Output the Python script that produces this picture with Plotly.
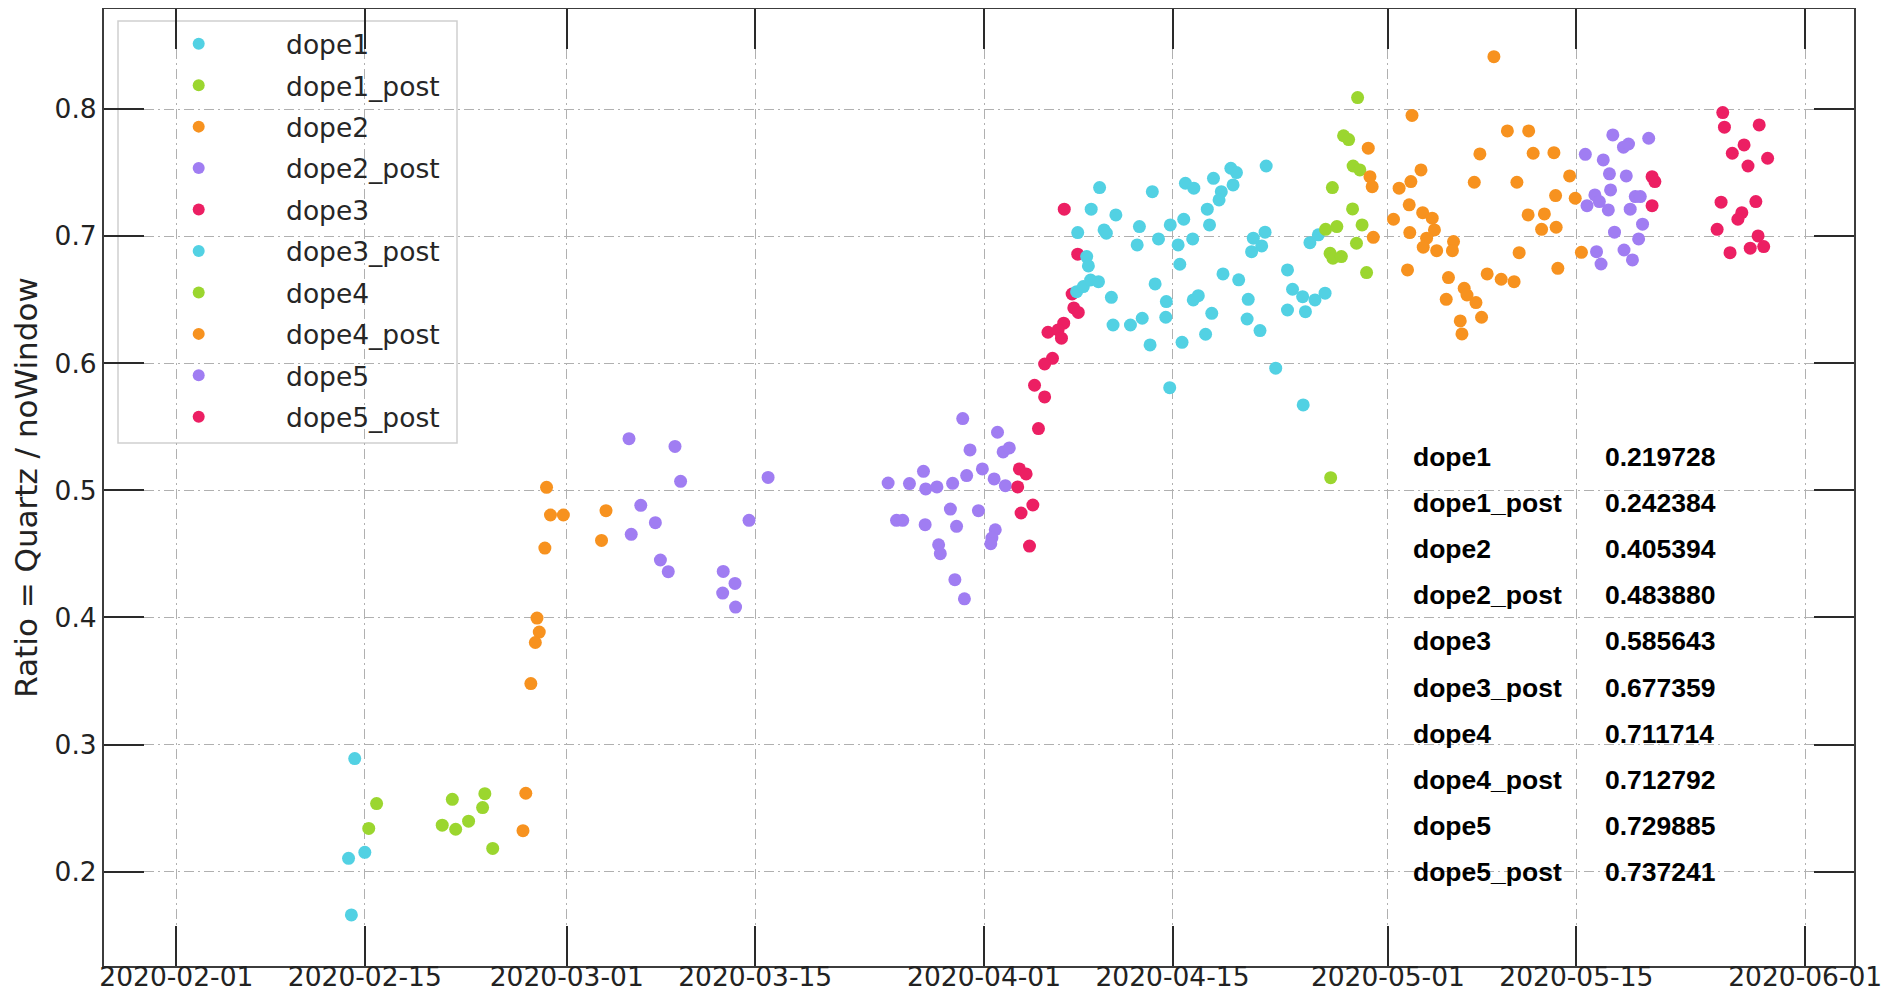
import plotly.graph_objects as go

# ---------------- data ----------------
series_names = ["dope1", "dope1_post", "dope2", "dope2_post", "dope3",
                "dope3_post", "dope4", "dope4_post", "dope5", "dope5_post"]
series_colors = ["#52d1e3", "#9bd62f", "#f7921f", "#a07df2", "#ec1f63",
                 "#52d1e3", "#9bd62f", "#f7921f", "#a07df2", "#ec1f63"]
mean_labels = ["0.219728", "0.242384", "0.405394", "0.483880", "0.585643",
               "0.677359", "0.711714", "0.712792", "0.729885", "0.737241"]
x_tick_dates = ["2020-02-01", "2020-02-15", "2020-03-01", "2020-03-15", "2020-04-01",
                "2020-04-15", "2020-05-01", "2020-05-15", "2020-06-01"]
y_tick_vals = [0.2, 0.3, 0.4, 0.5, 0.6, 0.7, 0.8]

dope1_x = ["2020-02-14 06:00", "2020-02-13 19:00", "2020-02-15 00:00", "2020-02-14 00:00"]
dope1_y = [0.289, 0.2105, 0.2152, 0.166]

dope1_post_x = ["2020-02-15 21:00", "2020-02-15 07:00", "2020-02-20 18:00", "2020-02-21 12:00",
                "2020-02-21 18:00", "2020-02-22 17:00", "2020-02-23 22:00", "2020-02-23 18:00",
                "2020-02-24 12:00"]
dope1_post_y = [0.2536, 0.234, 0.2366, 0.2569, 0.2334, 0.2397, 0.2614, 0.2504, 0.2183]

dope2_x = ["2020-02-26 23:00", "2020-02-26 18:00", "2020-02-28 12:00", "2020-02-28 19:00",
           "2020-02-29 18:00", "2020-02-28 09:00", "2020-03-03 22:00", "2020-03-03 14:00",
           "2020-02-27 19:00", "2020-02-27 23:00", "2020-02-27 16:00", "2020-02-27 08:00"]
dope2_y = [0.2617, 0.2323, 0.5024, 0.4806, 0.4806, 0.4546, 0.484, 0.4606,
           0.3995, 0.3885, 0.3803, 0.348]

dope2_post_x = ["2020-03-05 15:00", "2020-03-09 01:00", "2020-03-09 11:00", "2020-03-15 23:00",
                "2020-03-06 12:00", "2020-03-07 14:00", "2020-03-05 19:00", "2020-03-14 13:00",
                "2020-03-07 23:00", "2020-03-08 13:00", "2020-03-12 15:00", "2020-03-13 12:00",
                "2020-03-12 14:00", "2020-03-13 13:00",
                "2020-03-30 10:00", "2020-04-02 00:00", "2020-03-30 23:00", "2020-04-02 10:00",
                "2020-04-02 21:00", "2020-03-27 12:00", "2020-03-24 21:00", "2020-03-26 11:00",
                "2020-03-27 16:00", "2020-03-28 12:00", "2020-03-29 16:00", "2020-03-30 17:00",
                "2020-03-31 21:00", "2020-04-01 18:00", "2020-04-02 14:00", "2020-03-29 12:00",
                "2020-03-31 14:00", "2020-03-25 12:00", "2020-03-25 23:00", "2020-03-27 15:00",
                "2020-03-29 23:00", "2020-04-01 20:00", "2020-04-01 14:00", "2020-04-01 12:00",
                "2020-03-28 15:00", "2020-03-28 18:00", "2020-03-29 20:00", "2020-03-30 13:00"]
dope2_post_y = [0.5407, 0.5346, 0.5071, 0.5102, 0.4882, 0.4746, 0.4654, 0.4764, 0.4452, 0.436,
                0.4362, 0.4268, 0.4192, 0.4082,
                0.5565, 0.5457, 0.5318, 0.5302, 0.5334, 0.515, 0.5058, 0.5053, 0.5011, 0.5027,
                0.5055, 0.5116, 0.5169, 0.509, 0.5037, 0.4853, 0.484, 0.4764, 0.4764, 0.473,
                0.4717, 0.469, 0.4625, 0.458, 0.4572, 0.4502, 0.4297, 0.4147]

dope3_x = ["2020-04-04 18:00", "2020-04-05 12:00", "2020-04-05 01:00", "2020-04-03 15:00",
           "2020-04-04 03:00", "2020-04-03 12:00", "2020-04-04 15:00", "2020-04-03 18:00",
           "2020-04-04 09:00", "2020-04-06 23:00", "2020-04-07 23:00", "2020-04-07 13:00",
           "2020-04-07 16:00", "2020-04-08 00:00", "2020-04-06 22:00", "2020-04-05 18:00",
           "2020-04-06 12:00", "2020-04-06 18:00", "2020-04-06 02:00", "2020-04-05 12:00"]
dope3_y = [0.5827, 0.5735, 0.5486, 0.5169, 0.5129, 0.5027, 0.4885, 0.4822, 0.4562, 0.7212,
           0.6858, 0.6545, 0.6435, 0.64, 0.6315, 0.6244, 0.6262, 0.6197, 0.6039, 0.5994]

dope3_post_x = ["2020-04-09 14:00", "2020-04-13 12:00", "2020-04-08 23:00", "2020-04-10 19:00",
                "2020-04-07 23:00", "2020-04-09 22:00", "2020-04-10 02:00", "2020-04-12 13:00",
                "2020-04-12 09:00", "2020-04-13 23:00", "2020-04-14 20:00", "2020-04-15 20:00",
                "2020-04-15 10:00", "2020-04-16 12:00", "2020-04-15 13:00", "2020-04-15 23:00",
                "2020-04-16 14:00", "2020-04-18 01:00", "2020-04-19 08:00", "2020-04-19 12:00",
                "2020-04-18 15:00", "2020-04-18 11:00", "2020-04-17 14:00", "2020-04-17 18:00",
                "2020-04-08 15:00", "2020-04-08 18:00", "2020-04-07 21:00", "2020-04-08 09:00",
                "2020-04-08 22:00", "2020-04-09 12:00", "2020-04-10 11:00", "2020-04-13 17:00",
                "2020-04-14 13:00", "2020-04-14 12:00", "2020-04-16 13:00", "2020-04-16 22:00",
                "2020-04-18 18:00", "2020-04-17 22:00", "2020-04-10 14:00", "2020-04-11 21:00",
                "2020-04-12 18:00", "2020-04-13 08:00", "2020-04-15 17:00", "2020-04-17 11:00",
                "2020-04-14 19:00", "2020-04-19 22:00",
                "2020-04-19 18:00", "2020-04-21 23:00", "2020-04-21 21:00", "2020-04-21 00:00",
                "2020-04-21 15:00", "2020-04-20 21:00", "2020-04-20 15:00", "2020-04-20 13:00",
                "2020-04-21 12:00", "2020-04-23 13:00", "2020-04-23 22:00", "2020-04-24 16:00",
                "2020-04-25 14:00", "2020-04-26 08:00", "2020-04-23 13:00", "2020-04-24 21:00",
                "2020-04-25 05:00", "2020-04-25 20:00", "2020-04-22 16:00", "2020-04-24 17:00"]
dope3_post_y = [0.7382, 0.735, 0.7212, 0.7167, 0.7028, 0.7049, 0.7023, 0.7075, 0.6931, 0.6978,
                0.7088, 0.7133, 0.6931, 0.6978, 0.6779, 0.7416, 0.7377, 0.7455, 0.7534, 0.7403,
                0.735, 0.7285, 0.7212, 0.7088, 0.6839, 0.6766, 0.6563, 0.6603, 0.6655, 0.6642,
                0.6519, 0.6624, 0.6485, 0.6362, 0.6498, 0.6532, 0.6703, 0.6393, 0.6301, 0.6301,
                0.6354, 0.6144, 0.6165, 0.6228, 0.5808, 0.6656,
                0.75, 0.7552, 0.7031, 0.6984, 0.6923, 0.6878, 0.6503, 0.6348, 0.6257, 0.6734,
                0.6582, 0.6524, 0.6498, 0.6551, 0.6419, 0.6406, 0.6949, 0.701, 0.5961, 0.5672]

dope4_x = ["2020-04-28 18:00", "2020-04-27 17:00", "2020-04-28 02:00", "2020-04-28 10:00",
           "2020-04-28 22:00", "2020-04-26 21:00", "2020-04-28 09:00", "2020-04-29 02:00",
           "2020-04-26 09:00", "2020-04-27 05:00", "2020-04-28 16:00", "2020-04-26 17:00",
           "2020-04-26 22:00", "2020-04-27 13:00", "2020-04-29 10:00", "2020-04-26 18:00"]
dope4_y = [0.809, 0.779, 0.776, 0.7552, 0.7521, 0.7382, 0.7214, 0.7088, 0.7054, 0.7075,
           0.6944, 0.6865, 0.6826, 0.6839, 0.6713, 0.51]

dope4_post_x = ["2020-04-29 13:00", "2020-05-07 20:00", "2020-04-29 16:00", "2020-04-29 20:00",
                "2020-05-01 20:00", "2020-05-02 17:00", "2020-05-03 11:00", "2020-05-07 10:00",
                "2020-05-02 14:00", "2020-05-03 14:00", "2020-05-04 07:00", "2020-05-01 10:00",
                "2020-05-04 11:00", "2020-05-02 15:00", "2020-04-29 22:00", "2020-05-03 21:00",
                "2020-05-03 15:00", "2020-05-04 15:00", "2020-05-05 21:00", "2020-05-05 19:00",
                "2020-05-02 11:00", "2020-05-05 12:00", "2020-05-08 09:00", "2020-05-05 08:00",
                "2020-05-06 16:00", "2020-05-06 21:00", "2020-05-07 13:00", "2020-05-07 23:00",
                "2020-05-06 09:00", "2020-05-06 12:00", "2020-05-02 19:00",
                "2020-05-08 21:00", "2020-05-09 21:00", "2020-05-11 11:00", "2020-05-11 19:00",
                "2020-05-13 08:00", "2020-05-10 14:00", "2020-05-14 12:00", "2020-05-13 11:00",
                "2020-05-14 22:00", "2020-05-11 10:00", "2020-05-12 15:00", "2020-05-12 10:00",
                "2020-05-13 12:00", "2020-05-10 18:00", "2020-05-15 09:00", "2020-05-13 15:00",
                "2020-05-09 10:00", "2020-05-10 09:00"]
dope4_post_y = [0.7692, 0.7647, 0.7468, 0.7389, 0.7377, 0.7429, 0.7521, 0.7424, 0.7246, 0.7185,
                0.7141, 0.7133, 0.7049, 0.7028, 0.6991, 0.6984, 0.6913, 0.6886, 0.6957, 0.6886,
                0.6734, 0.6674, 0.6703, 0.6503, 0.659, 0.6537, 0.6477, 0.6362, 0.6333, 0.6231,
                0.795,
                0.8412, 0.7828, 0.7828, 0.7652, 0.7657, 0.7424, 0.7474, 0.7319, 0.7298, 0.7167,
                0.7175, 0.7054, 0.707, 0.687, 0.6873, 0.6747, 0.6661, 0.6642]

dope5_x = ["2020-05-17 17:00", "2020-05-20 09:00", "2020-05-18 12:00", "2020-05-18 21:00",
           "2020-05-15 16:00", "2020-05-17 00:00", "2020-05-17 11:00", "2020-05-18 17:00",
           "2020-05-17 13:00", "2020-05-16 09:00", "2020-05-16 17:00", "2020-05-15 19:00",
           "2020-05-17 09:00", "2020-05-19 00:00", "2020-05-19 09:00", "2020-05-19 18:00",
           "2020-05-19 22:00", "2020-05-19 15:00", "2020-05-17 20:00", "2020-05-16 12:00",
           "2020-05-16 20:00", "2020-05-18 13:00", "2020-05-19 04:00"]
dope5_y = [0.7796, 0.777, 0.77, 0.7725, 0.7644, 0.76, 0.749, 0.7474, 0.7364, 0.7324,
           0.7272, 0.724, 0.7206, 0.7212, 0.7311, 0.7311, 0.7094, 0.6978, 0.7031, 0.6878,
           0.6781, 0.6891, 0.6813]

dope5_post_x = ["2020-05-25 21:00", "2020-05-26 00:00", "2020-05-28 14:00", "2020-05-27 11:00",
                "2020-05-26 14:00", "2020-05-27 18:00", "2020-05-29 05:00", "2020-05-20 15:00",
                "2020-05-20 20:00", "2020-05-20 15:00", "2020-05-25 18:00", "2020-05-28 08:00",
                "2020-05-27 07:00", "2020-05-27 00:00", "2020-05-25 11:00", "2020-05-28 12:00",
                "2020-05-27 22:00", "2020-05-28 22:00", "2020-05-26 10:00"]
dope5_post_y = [0.7972, 0.7857, 0.7875, 0.7718, 0.7652, 0.7552, 0.7613, 0.7468, 0.7429, 0.724,
                0.7267, 0.7272, 0.7185, 0.7133, 0.7054, 0.7002, 0.6905, 0.6918, 0.687]

series_x = [dope1_x, dope1_post_x, dope2_x, dope2_post_x, dope3_x,
            dope3_post_x, dope4_x, dope4_post_x, dope5_x, dope5_post_x]
series_y = [dope1_y, dope1_post_y, dope2_y, dope2_post_y, dope3_y,
            dope3_post_y, dope4_y, dope4_post_y, dope5_y, dope5_post_y]

# ---------------- figure ----------------
# the page body has an 8px margin, so the figure is made 16px smaller than the window
PAGE_W, PAGE_H, BODY = 1889, 1000, 8
W, H = PAGE_W - 2 * BODY, PAGE_H - 2 * BODY
L, R, T, B = 96, 27, 1, 26
plot_w, plot_h = W - L - R, H - T - B

def page_to_paper_x(px):
    return (px - BODY - L) / plot_w

def page_to_paper_y(py):
    return (H - B - (py - BODY)) / plot_h

fig = go.Figure()
pad = "\u00a0" * 8
for i, name in enumerate(series_names):
    fig.add_trace(go.Scatter(
        x=series_x[i], y=series_y[i], mode="markers", name=pad + name,
        legendgroup=name,
        marker=dict(size=13, color=series_colors[i], line=dict(width=0)),
    ))

# legend frame (matplotlib style box)
fig.add_shape(type="rect", xref="paper", yref="paper",
              x0=page_to_paper_x(118), x1=page_to_paper_x(457),
              y0=page_to_paper_y(443), y1=page_to_paper_y(21),
              line=dict(color="#cfcfcf", width=1.5),
              fillcolor="rgba(255,255,255,0.85)", layer="between")

# mean-value table
row0_y, row_step = 0.526, 0.03622
for i, name in enumerate(series_names):
    yv = row0_y - i * row_step
    fig.add_annotation(x=page_to_paper_x(1411), xref="paper", y=yv, yref="y",
                       text=name, showarrow=False, xanchor="left", yanchor="middle",
                       font=dict(family="Liberation Sans, Arial", size=26.5, color="#000000",
                                 weight="bold"))
    fig.add_annotation(x=page_to_paper_x(1603), xref="paper", y=yv, yref="y",
                       text=mean_labels[i], showarrow=False, xanchor="left", yanchor="middle",
                       font=dict(family="Liberation Sans, Arial", size=26.5, color="#000000",
                                 weight="bold"))

axis_common = dict(
    automargin=False,
    showline=True, linecolor="#3c3c3c", linewidth=2, mirror="ticks",
    ticks="inside", ticklen=40, tickwidth=2, tickcolor="#2a2a2a",
    showgrid=True, gridcolor="#b0b0b0", gridwidth=1.2, griddash="10px,4px,2px,4px",
    zeroline=False, ticklabeloverflow="allow",
    tickfont=dict(family="DejaVu Sans", size=26.5, color="#222222"),
)

fig.update_xaxes(
    **axis_common,
    type="date", range=["2020-01-26 15:00", "2020-06-04 15:00"],
    tickvals=x_tick_dates, tickformat="%Y-%m-%d", ticklabelstandoff=-14,
)
fig.update_yaxes(
    **axis_common,
    range=[0.1258, 0.8787], tickvals=y_tick_vals, tickformat=".1f",
    title=dict(text="Ratio = Quartz / noWindow",
               font=dict(family="DejaVu Sans", size=31, color="#222222"), standoff=8),
)

fig.update_layout(
    width=W, height=H, autosize=False,
    margin=dict(l=L, r=R, t=T, b=B, pad=0),
    plot_bgcolor="white", paper_bgcolor="white",
    showlegend=True,
    legend=dict(x=page_to_paper_x(178.7), xanchor="left", y=page_to_paper_y(20), yanchor="top",
                bgcolor="rgba(0,0,0,0)", borderwidth=0, itemsizing="constant",
                tracegroupgap=4,
                font=dict(family="DejaVu Sans", size=26.5, color="#262626")),
)

fig.write_html("out.html")
